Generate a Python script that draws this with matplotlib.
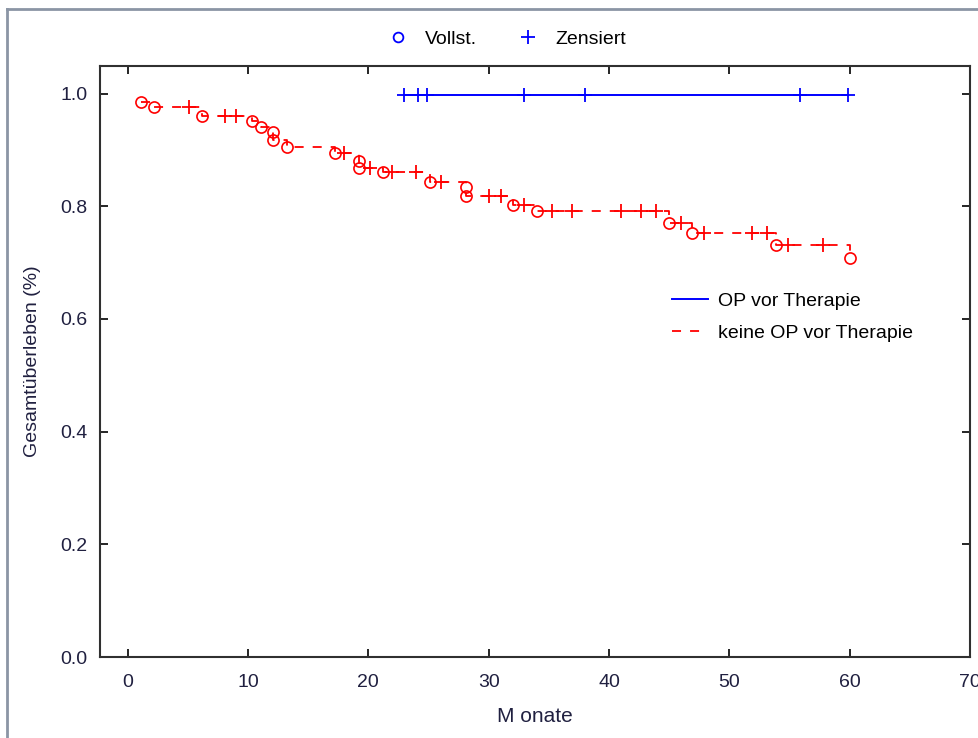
import numpy as np
import matplotlib
matplotlib.use("Agg")
import matplotlib.pyplot as plt
from matplotlib.lines import Line2D

plt.rcParams['font.family'] = ['Liberation Sans', 'DejaVu Sans']

# keine OP vor Therapie: Ereignisse (Kreise) und Zensierungen (+)
rot_t = [1.1, 2.2, 6.2, 10.3, 11.1, 12.1, 12.1, 13.2, 17.2, 19.2, 19.2, 21.2,
         25.1, 28.1, 28.1, 32.0, 34.0, 45.0, 46.9, 53.9, 60.0]
rot_s = [0.985, 0.976, 0.961, 0.951, 0.941, 0.931, 0.917, 0.906, 0.895, 0.880,
         0.868, 0.860, 0.843, 0.835, 0.819, 0.803, 0.791, 0.771, 0.753, 0.732, 0.709]
rot_zens = [5.1, 8.1, 9.0, 18.0, 20.1, 22.0, 24.0, 26.0, 30.0, 31.0, 32.9, 35.3,
            36.9, 41.0, 42.7, 43.9, 46.0, 47.9, 51.9, 53.1, 54.9, 57.8]

# OP vor Therapie: nur Zensierungen
blau_zens = [23.0, 24.1, 24.9, 32.9, 38.0, 55.9, 59.9]
blau_s = 0.997

xticks = [0, 10, 20, 30, 40, 50, 60, 70]
yticks = [0.0, 0.2, 0.4, 0.6, 0.8, 1.0]

W, H = 979, 738
fig = plt.figure(figsize=(W / 100, H / 100), dpi=100)
ax = fig.add_axes([100 / W, 1 - 657 / H, 870 / W, 591 / H])

rot = '#ff0000'
blau = '#0000ff'

# Stufenkurven
ax.step(rot_t, rot_s, where='post', color=rot, lw=1.3, dashes=(5, 5))
ax.plot([blau_zens[0], blau_zens[-1]], [blau_s, blau_s], color=blau, lw=1.4)

# Kreise fuer Ereignisse
ax.plot(rot_t, rot_s, 'o', ms=8, mfc='none', mec=rot, mew=1.2)

# Zensierungen auf Kurvenniveau
rt = np.array(rot_t)
rs = np.array(rot_s)
zens_s = [rs[rt <= t][-1] for t in rot_zens]
ax.plot(rot_zens, zens_s, '+', ms=10, mec=rot, mew=1.3)
ax.plot(blau_zens, [blau_s] * len(blau_zens), '+', ms=10, mec=blau, mew=1.3)

ax.set_xlim(-2.3, 70)
ax.set_ylim(0, 1.049)
ax.set_xticks(xticks)
ax.set_yticks(yticks)
ax.set_yticklabels(['%.1f' % v for v in yticks])
ax.tick_params(direction='in', length=6, width=1.2, top=True, right=True,
               labelsize=14, colors='black', labelcolor='#202040')
ax.tick_params(axis='x', pad=12)
ax.tick_params(axis='y', pad=9)
for s in ax.spines.values():
    s.set_linewidth(1.5)
    s.set_color('#303030')

ax.set_xlabel('M onate', fontsize=15, labelpad=12, color='#202040')
ax.set_ylabel('Gesamtüberleben (%)', fontsize=14, labelpad=14, color='#202040')

# Legende im Diagramm
h1 = Line2D([], [], color=blau, lw=1.4)
h2 = Line2D([], [], color=rot, lw=1.3, dashes=(5, 5))
ax.legend([h1, h2], ['OP vor Therapie', 'keine OP vor Therapie'],
          loc='upper left', bbox_to_anchor=(572 / 870, 1 - 226 / 591),
          frameon=False, fontsize=14, handlelength=1.85, handletextpad=0.5,
          labelspacing=0.75, borderaxespad=0, borderpad=0)

# Legende oben
m1 = Line2D([], [], ls='none', marker='o', ms=7, mfc='none', mec=blau, mew=1.3)
m2 = Line2D([], [], ls='none', marker='+', ms=10, mec=blau, mew=1.3)
fig.legend([m1, m2], ['Vollst.', 'Zensiert'], loc='center',
           bbox_to_anchor=(506 / W, 1 - 39 / H), ncol=2, frameon=False,
           fontsize=14, handlelength=1.2, handletextpad=0.8, columnspacing=2.0)

# grauer Rahmen
fig.add_artist(Line2D([7 / W, 7 / W], [0, 1 - 9 / H], color='#8b95a5', lw=2))
fig.add_artist(Line2D([7 / W, 1], [1 - 9 / H, 1 - 9 / H], color='#8b95a5', lw=2))

fig.savefig('out.png', dpi=100)
